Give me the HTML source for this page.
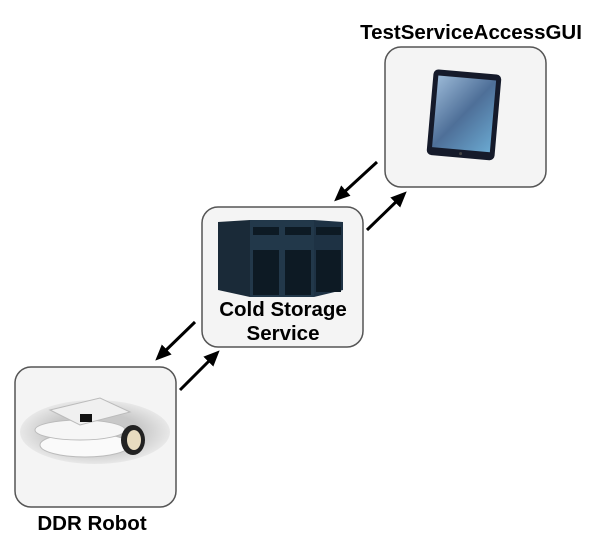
<!DOCTYPE html>
<html><head><style>
body{margin:0;width:601px;height:546px;background:#fff;overflow:hidden;font-family:"Liberation Sans",Arial,sans-serif;}
</style></head><body>
<svg width="601" height="546" viewBox="0 0 601 546" xmlns="http://www.w3.org/2000/svg">
<defs>
<marker id="a" markerWidth="16" markerHeight="14" refX="8" refY="7" orient="auto" markerUnits="userSpaceOnUse" viewBox="0 0 16 14">
<path d="M0,0 L16,7 L0,14 z" fill="#000"/></marker>
<linearGradient id="scr" x1="0" y1="0" x2="1" y2="1"><stop offset="0" stop-color="#9ab8d6"/><stop offset="0.5" stop-color="#4e6f98"/><stop offset="1" stop-color="#6aa8d0"/></linearGradient>
<linearGradient id="srv" x1="0" y1="0" x2="1" y2="0"><stop offset="0" stop-color="#1a2a38"/><stop offset="1" stop-color="#2e4a5e"/></linearGradient>
<radialGradient id="sh"><stop offset="0.6" stop-color="#c8c8c8"/><stop offset="1" stop-color="#e8e8e8"/></radialGradient>
</defs>
<g stroke="#555" stroke-width="1.5" fill="#f4f4f4">
<rect x="385" y="47" width="161" height="140" rx="16"/>
<rect x="202" y="207" width="161" height="140" rx="16"/>
<rect x="15" y="367" width="161" height="140" rx="16"/>
</g>
<g transform="rotate(5 466 115)">
<rect x="430" y="72" width="68" height="86" rx="5" fill="#151a2a"/>
<rect x="435" y="78" width="58" height="72" fill="url(#scr)"/>
<circle cx="464" cy="154" r="1.5" fill="#444"/>
</g>
<g>
<path d="M218 222 L250 220 L250 297 L218 290 Z" fill="#1a2a38"/>
<path d="M250 220 L282 220 L282 297 L250 297 Z" fill="#22384a"/>
<path d="M282 220 L314 220 L314 297 L282 297 Z" fill="#22384a"/>
<path d="M314 220 L343 222 L343 290 L314 297 Z" fill="#1e3244"/>
<g fill="#0d1a24"><rect x="253" y="227" width="26" height="8"/><rect x="285" y="227" width="26" height="8"/><rect x="316" y="227" width="25" height="8"/>
<rect x="253" y="250" width="26" height="45"/><rect x="285" y="250" width="26" height="45"/><rect x="316" y="250" width="25" height="42"/></g>
</g>
<ellipse cx="95" cy="432" rx="75" ry="32" fill="url(#sh)"/>
<ellipse cx="85" cy="445" rx="45" ry="12" fill="#fafafa" stroke="#bbb"/>
<ellipse cx="80" cy="430" rx="45" ry="10" fill="#f6f6f6" stroke="#bbb"/>
<path d="M50 410 L100 398 L130 412 L80 425 Z" fill="#f0f0f0" stroke="#bbb"/>
<rect x="80" y="414" width="12" height="8" fill="#111"/>
<ellipse cx="133" cy="440" rx="12" ry="15" fill="#222"/>
<ellipse cx="134" cy="440" rx="7" ry="10" fill="#e8dcc0"/>
<g stroke="#000" stroke-width="3" marker-end="url(#a)">
<line x1="377" y1="162" x2="340" y2="196"/>
<line x1="367" y1="230" x2="401" y2="197"/>
<line x1="195" y1="322" x2="161" y2="355"/>
<line x1="180" y1="390" x2="214" y2="356"/>
</g>
<g font-weight="bold" font-size="20.5" text-anchor="middle" fill="#000">
<text x="471" y="39">TestServiceAccessGUI</text>
<text x="283" y="316">Cold Storage</text>
<text x="283" y="340">Service</text>
<text x="92" y="530">DDR Robot</text>
</g>
</svg>
</body></html>
